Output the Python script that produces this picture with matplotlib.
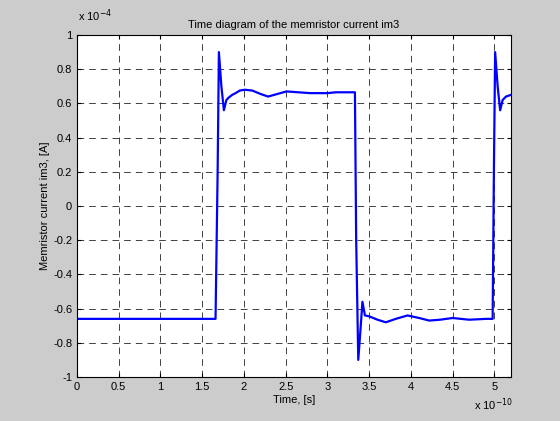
import numpy as np
import matplotlib.pyplot as plt

plt.rcParams['font.family'] = ['Liberation Sans', 'DejaVu Sans']

# time in units of 1e-10 s, current in units of 1e-4 A
t = [0.0, 1.66, 1.685, 1.70, 1.73, 1.76, 1.79, 1.82, 1.86, 1.90, 1.95, 2.01, 2.1,
     2.2, 2.29, 2.4, 2.51, 2.65, 2.8, 3.0, 3.1, 3.33, 3.345, 3.37, 3.40, 3.42, 3.45,
     3.50, 3.6, 3.70, 3.82, 3.96, 4.1, 4.22, 4.35, 4.5, 4.7, 4.9, 4.98, 4.995, 5.01,
     5.04, 5.07, 5.10, 5.14, 5.2]
im3 = [-0.66, -0.66, 0.2, 0.9, 0.7, 0.56, 0.62, 0.635, 0.65, 0.66, 0.675, 0.68, 0.675,
       0.655, 0.64, 0.655, 0.67, 0.665, 0.66, 0.66, 0.665, 0.665, -0.2, -0.9, -0.7,
       -0.56, -0.64, -0.645, -0.665, -0.68, -0.66, -0.64, -0.655, -0.67, -0.665,
       -0.655, -0.665, -0.66, -0.66, 0.2, 0.9, 0.7, 0.56, 0.62, 0.64, 0.65]
xticks = [0, 0.5, 1, 1.5, 2, 2.5, 3, 3.5, 4, 4.5, 5]
yticks = [-1, -0.8, -0.6, -0.4, -0.2, 0, 0.2, 0.4, 0.6, 0.8, 1]

fig = plt.figure(figsize=(5.6, 4.21), dpi=100, facecolor='#cccccc')
ax = fig.add_axes([77/560, 1-377/421, (511-77)/560, (377-35)/421])
ax.plot(t, im3, color='#0000ff', lw=1.6)
ax.set_xlim(0, 5.2)
ax.set_ylim(-1, 1)
ax.set_xticks(xticks)
ax.set_yticks(yticks)
ax.set_xticklabels([('%g' % v) for v in xticks])
ax.set_yticklabels([('%g' % v) for v in yticks])
ax.tick_params(direction='in', labelsize=8, top=True, right=True, length=3)
ax.grid(True, color='#222222', linestyle=(0, (8, 6)), lw=0.6)
for s in ax.spines.values():
    s.set_linewidth(0.8)
ax.set_title('Time diagram of the memristor current im3', fontsize=8, pad=5)
ax.set_xlabel('Time, [s]', fontsize=8, labelpad=2)
ax.set_ylabel('Memristor current im3, [A]', fontsize=8, labelpad=2)
fig.text(78/560, 1-24/421, r'x 10$^{-4}$', fontsize=8, va='bottom')
fig.text(474/560, 1-413/421, r'x 10$^{-10}$', fontsize=8, va='bottom')
fig.savefig('out.png', dpi=100, facecolor=fig.get_facecolor())
